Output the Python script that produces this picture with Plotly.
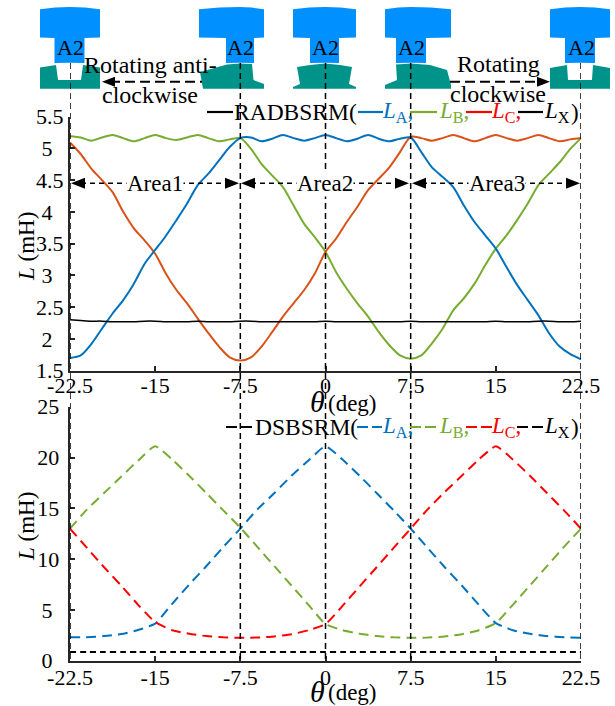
import plotly.graph_objects as go

W, H = 615, 706
X_PX = (70, 581)
TOP_PX = (116.5, 370.7)
BOT_PX = (406.7, 660.7)

THETA_TOP = [-22.5, -21.5625, -20.625, -19.6875, -18.75, -17.8125, -16.875, -15.9375, -15, -14.0625, -13.125,
             -12.1875, -11.25, -10.3125, -9.375, -8.4375, -7.5, -6.5625, -5.625, -4.6875, -3.75, -2.8125, -1.875,
             -0.9375, 0, 0.9375, 1.875, 2.8125, 3.75, 4.6875, 5.625, 6.5625, 7.5, 8.4375, 9.375, 10.3125, 11.25,
             12.1875, 13.125, 14.0625, 15, 15.9375, 16.875, 17.8125, 18.75, 19.6875, 20.625, 21.5625, 22.5]
RAD_LA = [1.70, 1.74, 1.92, 2.16, 2.40, 2.61, 2.87, 3.18, 3.40, 3.62, 3.87, 4.13, 4.42, 4.60, 4.81, 5.02, 5.16,
          5.17, 5.11, 5.15, 5.21, 5.16, 5.12, 5.16, 5.21, 5.16, 5.11, 5.15, 5.21, 5.15, 5.11, 5.15, 5.17,
          4.94, 4.70, 4.55, 4.39, 4.10, 3.84, 3.63, 3.42, 3.13, 2.85, 2.61, 2.37, 2.09, 1.88, 1.76, 1.68]
RAD_LB = [5.19, 5.17, 5.12, 5.17, 5.21, 5.16, 5.11, 5.16, 5.21, 5.16, 5.13, 5.17, 5.21, 5.16, 5.11, 5.14, 5.16,
          4.99, 4.75, 4.57, 4.39, 4.10, 3.81, 3.60, 3.37, 3.05, 2.79, 2.56, 2.35, 2.11, 1.90, 1.74, 1.69,
          1.74, 1.93, 2.16, 2.45, 2.64, 2.87, 3.16, 3.42, 3.63, 3.87, 4.13, 4.42, 4.60, 4.78, 4.99, 5.16]
RAD_LC = [5.09, 4.91, 4.68, 4.50, 4.31, 4.00, 3.74, 3.55, 3.34, 3.03, 2.77, 2.56, 2.32, 2.09, 1.88, 1.71, 1.66,
          1.71, 1.88, 2.11, 2.35, 2.56, 2.77, 3.03, 3.37, 3.58, 3.84, 4.08, 4.34, 4.52, 4.70, 4.94, 5.18,
          5.16, 5.12, 5.16, 5.21, 5.16, 5.11, 5.16, 5.21, 5.16, 5.12, 5.16, 5.21, 5.16, 5.11, 5.14, 5.16]
RAD_LX = [2.30, 2.29, 2.28, 2.28, 2.27, 2.27, 2.27, 2.28, 2.28, 2.27, 2.27, 2.27, 2.28, 2.27, 2.27, 2.27, 2.28,
          2.28, 2.27, 2.27, 2.27, 2.27, 2.27, 2.27, 2.28, 2.27, 2.27, 2.27, 2.27, 2.27, 2.27, 2.27, 2.28,
          2.27, 2.27, 2.27, 2.27, 2.27, 2.27, 2.27, 2.28, 2.27, 2.27, 2.27, 2.28, 2.28, 2.27, 2.27, 2.28]

THETA_BOT = [-22.5, -21, -19.5, -18, -16.5, -15, -13.5, -12, -10.5, -9, -7.5, -6, -4.5, -3, -1.5, 0,
             1.5, 3, 4.5, 6, 7.5, 9, 10.5, 12, 13.5, 15, 16.5, 18, 19.5, 21, 22.5]
DS_LA = [2.30, 2.32, 2.42, 2.62, 3.02, 3.65, 5.6, 7.5, 9.3, 11.2, 13.0, 14.9, 16.5, 18.2, 19.7, 21.1,
         19.8, 18.2, 16.5, 14.8, 13.0, 11.1, 9.2, 7.4, 5.5, 3.7, 3.0, 2.65, 2.42, 2.32, 2.25]
DS_LB = [13.0, 14.9, 16.5, 18.1, 19.7, 21.1, 19.8, 18.2, 16.5, 14.8, 13.1, 11.2, 9.3, 7.4, 5.5, 3.6,
         3.0, 2.65, 2.42, 2.30, 2.25, 2.28, 2.38, 2.6, 3.0, 3.7, 5.5, 7.4, 9.3, 11.2, 13.0]
DS_LC = [13.0, 11.1, 9.2, 7.4, 5.5, 3.8, 3.0, 2.65, 2.42, 2.30, 2.25, 2.28, 2.38, 2.6, 3.0, 3.6,
         5.4, 7.3, 9.2, 11.1, 13.0, 14.9, 16.6, 18.2, 19.8, 21.1, 19.8, 18.2, 16.5, 14.8, 13.0]
DS_LX = [0.85] * 31

X_TICKS = [-22.5, -15, -7.5, 0, 7.5, 15, 22.5]
X_LABELS = ["-22.5", "-15", "-7.5", "0", "7.5", "15", "22.5"]
TOP_Y_TICKS = [1.5, 2, 2.5, 3, 3.5, 4, 4.5, 5, 5.5]
TOP_Y_LABELS = ["1.5", "2\u2002", "2.5", "3\u2002", "3.5", "4\u2002", "4.5", "5\u2002", "5.5"]
BOT_Y_TICKS = [0, 5, 10, 15, 20, 25]
BOT_Y_LABELS = ["0\u2002", "5\u2002", "10\u2009", "15\u2009", "20\u2009", "25\u2009"]
GUIDES = [-22.5, -7.5, 0, 7.5, 22.5]

BLUE, GREEN, ORANGE, RED = "#0072BD", "#77AC30", "#D95319", "#FF0000"
AXIS = "#262626"
FONT = "Liberation Serif"
SKY, TEAL = "#0090FF", "#00938A"


def px(x):
    return x / W


def py(y):
    return 1 - y / H


def poly(points, color):
    path = "M " + " L ".join(f"{px(a):.5f},{py(b):.5f}" for a, b in points) + " Z"
    return dict(type="path", xref="paper", yref="paper", path=path, fillcolor=color, line=dict(width=0), layer="above")


def seg(x0, x1, y, color="black", width=2, dash="solid"):
    return dict(type="line", xref="paper", yref="paper", x0=px(x0), x1=px(x1), y0=py(y), y1=py(y),
                line=dict(color=color, width=width, dash=dash))


def label(x, y, text, size=22, color="black", angle=0, bg=None):
    return dict(xref="paper", yref="paper", x=px(x), y=py(y), text=text, showarrow=False, textangle=angle,
                xanchor="center", yanchor="middle", font=dict(family=FONT, size=size, color=color),
                bgcolor=bg, borderpad=0)


fig = go.Figure()
for name, ys, color, wd in [("LB", RAD_LB, GREEN, 2), ("LC", RAD_LC, ORANGE, 2), ("LA", RAD_LA, BLUE, 2),
                            ("LX", RAD_LX, "black", 1.5)]:
    fig.add_trace(go.Scatter(x=THETA_TOP, y=ys, mode="lines", name="RADBSRM " + name, xaxis="x", yaxis="y",
                             line=dict(color=color, width=wd, shape="spline", smoothing=0.8)))
for name, ys, color in [("LB", DS_LB, GREEN), ("LA", DS_LA, BLUE), ("LC", DS_LC, RED), ("LX", DS_LX, "black")]:
    fig.add_trace(go.Scatter(x=THETA_BOT, y=ys, mode="lines", name="DSBSRM " + name, xaxis="x2", yaxis="y2",
                             line=dict(color=color, width=2, shape="spline", smoothing=0.5,
                                       dash="10px,6px" if name != "LX" else "6px,4px")))

shapes = []
# motor sprites: stator (blue) and rotor (teal)
for x0, x1, t0, t1, cx in [(40, 100, 54.5, 84.5, 70), (199, 264, 226, 254, 240), (293, 356, 310, 339, 325),
                           (385, 451, 396, 426, 411), (550, 610, 565, 595, 580)]:
    shapes.append(poly([(x0, 9.3), ((x0 + cx) / 2, 7.6), (cx, 7), ((x1 + cx) / 2, 7.6), (x1, 9.3), (x1, 37.5),
                        (t1, 38), (t1, 63), (cx, 62.8), (t0, 63), (t0, 38), (x0, 37.5)], SKY))
shapes.append(poly([(40, 67.5), (56, 65), (58, 80), (81, 80), (83, 65), (100, 67.5), (100, 88.7), (40, 88.7)], TEAL))
shapes.append(poly([(200, 72), (227, 64.5), (240, 63.5), (252, 64), (253.5, 80), (264, 84), (264, 88.7), (203, 88.7)], TEAL))
shapes.append(poly([(297, 67), (310, 65), (325, 63.5), (340, 65), (352, 67), (349, 84), (356, 87), (356, 88.7),
                    (293, 88.7), (293, 87), (300, 84)], TEAL))
shapes.append(poly([(396, 64.5), (411, 63.5), (430, 65), (447, 70), (451, 85), (451, 88.7), (385, 88.7), (385, 85),
                    (397, 80)], TEAL))
shapes.append(poly([(550, 68), (567, 65), (568, 80), (592, 80), (593, 65), (610, 68), (610, 88.7), (550, 88.7)], TEAL))

# guide lines at the area boundaries
for g in GUIDES:
    shapes.append(dict(type="line", xref="x", yref="paper", x0=g, x1=g, y0=py(63), y1=py(BOT_PX[1]),
                       line=dict(color="black", width=1.5, dash="6px,4px")))

# rotation arrows
shapes.append(seg(110, 202, 81.7, dash="10px,5px"))
shapes.append(poly([(102, 81.7), (115, 76.7), (115, 86.7)], "black"))
shapes.append(seg(450, 542, 81.7, dash="10px,5px"))
shapes.append(poly([(550, 81.7), (537, 76.7), (537, 86.7)], "black"))

# area arrows
AREA_Y = 183.3
for a, b in [(71, 239), (241, 409), (412, 580)]:
    shapes.append(seg(a + 10, b - 10, AREA_Y, width=1.5, dash="5px,4px"))
    shapes.append(poly([(a, AREA_Y), (a + 14, AREA_Y - 5.5), (a + 14, AREA_Y + 5.5)], "black"))
    shapes.append(poly([(b, AREA_Y), (b - 14, AREA_Y - 5.5), (b - 14, AREA_Y + 5.5)], "black"))

# legend keys
for x0, x1, c in [(207, 233, "black"), (358, 383, BLUE), (410, 437, GREEN), (466, 492, RED), (518, 543, "black")]:
    shapes.append(seg(x0, x1, 112, color=c, width=2.2))
for x0, x1, c in [(226, 252, "black"), (357, 382, BLUE), (410, 437, GREEN), (466, 492, RED), (517, 543, "black")]:
    shapes.append(seg(x0, x1, 427, color=c, width=2.2, dash="11px,4px"))

annotations = []
for cx in [70, 240.5, 325, 411, 581]:
    annotations.append(label(cx, 48, "A2", size=22))
annotations += [
    label(150, 65, "Rotating anti-", size=24),
    label(150, 95, "clockwise", size=24),
    label(498, 64, "Rotating", size=24),
    label(498, 94, "clockwise", size=24),
    label(154.5, 183.5, "Area1", size=23, bg="white"),
    label(325, 183.5, "Area2", size=23, bg="white"),
    label(497, 183.5, "Area3", size=23, bg="white"),
]
for y, head, hx in [(112, "RADBSRM(", 295.5), (427, "DSBSRM(", 306)]:
    annotations.append(label(hx, y, head, size=23.5))
    for cx, letter, c in [(397, "A", BLUE), (453.5, "B", GREEN), (506, "C", RED), (557, "X", "black")]:
        annotations.append(label(cx, y, f"<i>L</i><sub>{letter}</sub>" + ("" if letter == "X" else ","), size=23, color=c))
    annotations.append(label(574.5, y, ")", size=23))
for y in [247, 527]:
    annotations.append(label(26, y, "<i>L</i> (mH)", size=23, angle=-90))
for y in [403, 692]:
    annotations.append(label(317, y - 1, "<i>θ</i>", size=30))
    annotations.append(label(352, y, "(deg)", size=23))

axis_common = dict(showline=True, linecolor=AXIS, linewidth=2, ticks="inside", ticklen=5, tickwidth=2, tickcolor=AXIS,
                   showgrid=False, zeroline=False, automargin=False, tickmode="array",
                   tickfont=dict(family=FONT, size=22, color="black"))
fig.update_layout(
    width=W, height=H, autosize=False, showlegend=False, paper_bgcolor="white", plot_bgcolor="white",
    margin=dict(l=0, r=0, t=0, b=0),
    xaxis=dict(domain=[px(X_PX[0]), px(X_PX[1])], range=[-22.5, 22.5], tickvals=X_TICKS, ticktext=X_LABELS,
               anchor="y", ticklabelstandoff=-6, **axis_common),
    yaxis=dict(domain=[py(TOP_PX[1]), py(TOP_PX[0])], range=[1.5, 5.5], tickvals=TOP_Y_TICKS, ticktext=TOP_Y_LABELS,
               anchor="x", **axis_common),
    xaxis2=dict(domain=[px(X_PX[0]), px(X_PX[1])], range=[-22.5, 22.5], tickvals=X_TICKS, ticktext=X_LABELS,
                anchor="y2", ticklabelstandoff=-4, **axis_common),
    yaxis2=dict(domain=[py(BOT_PX[1]), py(BOT_PX[0])], range=[0, 25], tickvals=BOT_Y_TICKS, ticktext=BOT_Y_LABELS,
                anchor="x2", **axis_common),
    shapes=shapes, annotations=annotations,
)
fig.write_html("out.html", config={"displayModeBar": False},
               post_script="document.body.style.margin='0';document.body.style.overflow='hidden';")
